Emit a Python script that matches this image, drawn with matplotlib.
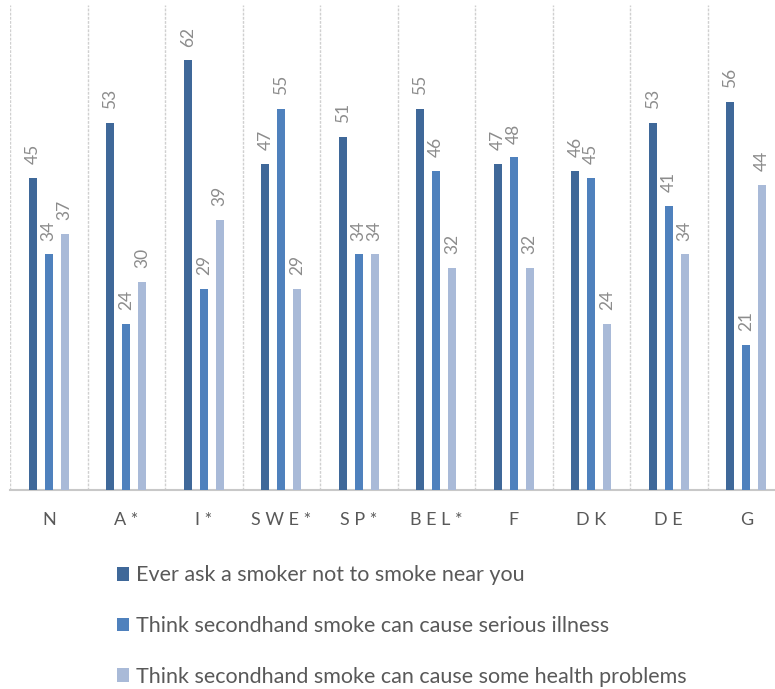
import matplotlib
matplotlib.use("Agg")
import matplotlib.pyplot as plt
import numpy as np

countries = ["N", "A *", "I *", "S W E *", "S P *", "B E L *", "F", "D K", "D E", "G"]
ask_smoker   = [45, 53, 62, 47, 51, 55, 47, 46, 53, 56]
serious_ill  = [34, 24, 29, 55, 34, 46, 48, 45, 41, 21]
some_health  = [37, 30, 39, 29, 34, 32, 32, 24, 34, 44]

series = [
    ("Ever ask a smoker not to smoke near you", ask_smoker, "#3F6899"),
    ("Think secondhand smoke can cause serious illness", serious_ill, "#4F81BD"),
    ("Think secondhand smoke can cause some health problems", some_health, "#A9BAD8"),
]

plt.rcParams["font.family"] = ["Lato", "DejaVu Sans"]

fig = plt.figure(figsize=(7.75, 6.89), dpi=100)
ax = fig.add_axes([10 / 775, 1 - 490 / 689, 1.0, 485 / 689])

x = np.arange(len(countries))
step = 0.206
width = 0.103
for i, (name, vals, color) in enumerate(series):
    pos = x + (i - 1) * step
    bars = ax.bar(pos, vals, width=width, color=color, label=name, zorder=3)
    for b, v in zip(bars, vals):
        ax.annotate(str(v), (b.get_x() + b.get_width() / 2, v),
                    xytext=(0, 10), textcoords="offset points",
                    rotation=90, ha="center", va="bottom",
                    fontsize=12.5, color="#8c8c8c")

# group separators
for k in range(len(countries) + 1):
    ax.axvline(k - 0.5, color="#d0d0d0", lw=1.0, ls=(0, (2, 1)), zorder=1)

ax.set_xlim(-0.5, len(countries) - 0.5)
ax.set_ylim(0, 70)
ax.set_yticks([])
ax.set_xticks(x)
ax.set_xticklabels(countries, fontsize=13, color="#595959")
ax.tick_params(axis="x", length=0, pad=16)
for s in ["top", "right", "left"]:
    ax.spines[s].set_visible(False)
ax.spines["bottom"].set_color("#c8c8c8")
ax.spines["bottom"].set_linewidth(1.5)

fig.legend(loc="upper left", bbox_to_anchor=(98 / 775, 1 - 546 / 689),
           frameon=False, fontsize=15.5, labelcolor="#595959",
           handlelength=0.56, handleheight=0.6, handletextpad=0.3,
           labelspacing=1.42)

plt.savefig("out.png", dpi=100, facecolor="white")
plt.close()
